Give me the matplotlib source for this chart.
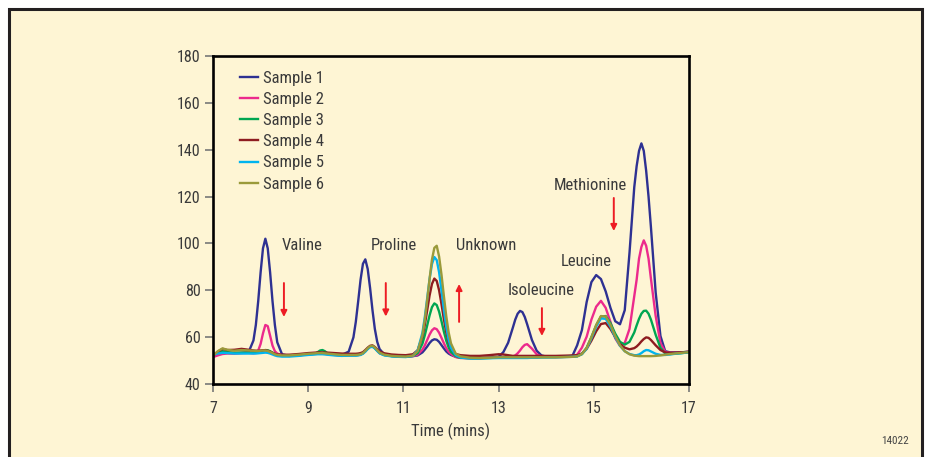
import matplotlib.pyplot as plt
from matplotlib.patches import Rectangle

plt.rcParams['font.family'] = ['Liberation Sans Narrow', 'DejaVu Sans Condensed',
                               'Roboto Condensed', 'Roboto', 'DejaVu Sans']

# retention time grid (mins)
time = [7.0, 7.1, 7.2, 7.3, 7.45, 7.6, 7.75,
        7.85, 7.9, 7.95, 8.0, 8.05, 8.1, 8.15, 8.2, 8.25, 8.3, 8.35, 8.45,
        8.6, 8.8, 9.0, 9.15, 9.2, 9.25, 9.3, 9.35, 9.4, 9.55, 9.7, 9.85,
        9.95, 10.0, 10.05, 10.1, 10.15, 10.2, 10.25, 10.3, 10.35, 10.4, 10.45, 10.5, 10.6,
        10.75, 10.9, 11.05, 11.2,
        11.3, 11.4, 11.45, 11.5, 11.55, 11.6, 11.65, 11.7, 11.75, 11.8, 11.85, 11.9, 11.95, 12.0, 12.1, 12.2,
        12.4, 12.6, 12.8, 13.0,
        13.1, 13.2, 13.3, 13.35, 13.4, 13.45, 13.5, 13.55, 13.6, 13.7, 13.8, 13.9, 14.0,
        14.2, 14.4, 14.55,
        14.65, 14.75, 14.85, 14.95, 15.05, 15.15, 15.25, 15.35, 15.45, 15.55, 15.65, 15.75, 15.85, 15.9,
        15.95, 16.0, 16.05, 16.1, 16.15, 16.2, 16.3, 16.4, 16.5, 16.6, 16.75, 16.9, 17.0]

sample1 = [52.5, 53.0, 53.5, 53.3, 53.2, 53.3, 53.7,
           58.6, 65.2, 75.4, 87.6, 97.9, 102.0, 97.9, 87.6, 75.4, 65.2, 57.8, 52.7,
           52.0, 52.3, 52.8, 53.0, 53.0, 53.0, 53.0, 52.9, 52.8, 52.5, 52.4, 53.8,
           59.9, 66.5, 75.3, 84.5, 91.3, 93.2, 89.1, 81.0, 71.6, 63.5, 58.0, 54.9, 52.6,
           52.0, 51.8, 51.7, 51.9,
           52.2, 53.5, 54.7, 56.0, 57.5, 58.6, 59.1, 58.9, 58.0, 56.6, 55.2, 53.9, 53.0, 52.4, 51.6, 51.2,
           51.1, 51.1, 51.3, 51.6,
           53.6, 57.6, 64.1, 67.5, 70.0, 71.2, 70.7, 68.6, 65.5, 58.8, 54.2, 52.2, 51.7,
           51.6, 51.7, 52.0,
           56.5, 63.0, 75.0, 83.5, 86.5, 84.8, 79.5, 72.5, 66.8, 65.5, 71.5, 96.0, 124.0, 133.0,
           139.5, 142.7, 139.5, 131.0, 120.0, 107.0, 79.0, 60.5, 54.0, 53.5, 53.5, 53.6, 53.8]

sample2 = [51.5, 52.2, 52.8, 53.0, 53.0, 53.2, 53.3,
           53.1, 53.3, 54.3, 57.1, 61.6, 65.2, 64.7, 60.6, 56.4, 54.0, 53.0, 52.3,
           52.0, 52.3, 52.7, 52.9, 53.0, 53.0, 53.0, 52.9, 52.8, 52.4, 52.2, 52.3,
           52.3, 52.3, 52.4, 52.6, 53.1, 54.0, 55.1, 56.0, 56.1, 55.3, 54.2, 53.2, 52.4,
           52.0, 51.8, 51.7, 51.9,
           52.5, 54.7, 56.5, 58.8, 61.1, 62.9, 63.8, 63.4, 61.9, 59.7, 57.4, 55.3, 53.8, 52.8, 51.5, 51.1,
           51.0, 51.0, 51.2, 51.4,
           51.5, 51.5, 51.8, 52.2, 53.1, 54.3, 55.7, 56.7, 57.0, 55.1, 52.7, 51.7, 51.6,
           51.5, 51.6, 51.8,
           52.5, 55.5, 60.2, 67.5, 73.0, 75.5, 72.5, 66.5, 59.5, 56.3, 57.5, 63.5, 77.5, 84.5,
           93.5, 98.5, 101.3, 99.0, 93.5, 85.0, 69.0, 57.5, 53.7, 53.3, 53.3, 53.5, 53.7]

sample3 = [52.5, 53.5, 54.0, 53.6, 53.3, 53.4, 53.4,
           53.4, 53.5, 53.7, 54.0, 54.3, 54.5, 54.4, 54.0, 53.4, 52.8, 52.3, 52.0,
           52.0, 52.3, 52.6, 52.9, 53.6, 54.3, 54.5, 54.0, 53.2, 52.5, 52.2, 52.3,
           52.3, 52.3, 52.4, 52.6, 53.1, 54.0, 55.1, 56.0, 56.1, 55.3, 54.2, 53.2, 52.4,
           51.9, 51.7, 51.6, 52.0,
           53.2, 57.2, 60.8, 65.0, 69.3, 72.8, 74.4, 73.7, 70.9, 66.8, 62.4, 58.5, 55.6, 53.7, 51.9, 51.2,
           51.0, 51.0, 51.1, 51.3,
           51.4, 51.4, 51.4, 51.4, 51.4, 51.4, 51.4, 51.4, 51.4, 51.4, 51.4, 51.5, 51.5,
           51.5, 51.6, 51.7,
           51.8, 52.8, 55.5, 60.0, 65.0, 68.8, 69.0, 66.0, 61.5, 58.0, 56.8, 58.0, 62.0, 65.0,
           67.8, 70.0, 71.2, 71.3, 70.0, 67.5, 61.0, 55.5, 53.0, 52.8, 53.0, 53.3, 53.6]

sample4 = [52.0, 53.8, 55.0, 54.5, 54.6, 55.0, 54.6,
           54.3, 54.2, 54.2, 54.3, 54.4, 54.4, 54.2, 53.8, 53.3, 52.9, 52.6, 52.5,
           52.5, 52.8, 53.2, 53.4, 53.5, 53.5, 53.5, 53.4, 53.4, 53.2, 53.0, 52.9,
           52.9, 52.9, 53.0, 53.2, 53.6, 54.5, 55.5, 56.3, 56.5, 55.8, 54.8, 53.9, 53.1,
           52.6, 52.4, 52.3, 52.7,
           54.4, 60.2, 65.3, 71.5, 77.8, 82.7, 85.0, 84.0, 80.0, 74.1, 67.7, 62.1, 57.9, 55.2, 52.8, 52.3,
           52.0, 52.0, 52.3, 52.7,
           52.6, 52.3, 52.0, 52.0, 52.0, 52.0, 52.0, 52.0, 52.0, 52.0, 52.0, 52.0, 52.0,
           52.0, 52.1, 52.2,
           52.3, 53.0, 55.0, 58.5, 62.5, 65.6, 66.0, 63.5, 60.0, 57.0, 55.5, 54.8, 55.3, 56.0,
           57.0, 58.2, 59.2, 59.9, 59.7, 58.8, 56.5, 54.5, 53.5, 53.3, 53.4, 53.6, 53.8]

sample5 = [52.5, 53.0, 53.3, 53.2, 53.0, 53.0, 53.0,
           53.0, 53.0, 53.1, 53.2, 53.3, 53.4, 53.3, 53.0, 52.6, 52.2, 51.9, 51.7,
           51.7, 52.0, 52.4, 52.6, 52.7, 52.7, 52.7, 52.6, 52.5, 52.2, 52.0, 52.1,
           52.1, 52.1, 52.2, 52.4, 52.9, 53.8, 54.9, 55.7, 55.9, 55.2, 54.1, 53.1, 52.2,
           51.8, 51.6, 51.5, 52.0,
           54.4, 61.9, 68.6, 76.6, 84.8, 91.2, 94.2, 92.9, 87.7, 80.0, 71.7, 64.4, 58.9, 55.4, 52.3, 51.3,
           50.9, 50.9, 51.0, 51.1,
           51.1, 51.1, 51.1, 51.1, 51.1, 51.1, 51.1, 51.1, 51.1, 51.2, 51.2, 51.3, 51.3,
           51.4, 51.5, 51.6,
           51.8, 52.7, 55.0, 59.5, 64.5, 68.0, 67.8, 64.5, 60.0, 56.3, 54.0, 52.8, 52.3, 52.3,
           52.6, 53.2, 54.0, 54.5, 54.4, 53.9, 52.9, 52.4, 52.4, 52.6, 53.0, 53.3, 53.6]

sample6 = [52.0, 54.0, 55.2, 54.6, 54.2, 54.5, 54.3,
           54.2, 54.1, 54.1, 54.2, 54.3, 54.3, 54.1, 53.7, 53.2, 52.7, 52.4, 52.2,
           52.2, 52.5, 52.9, 53.1, 53.2, 53.2, 53.2, 53.1, 53.0, 52.7, 52.4, 52.4,
           52.4, 52.4, 52.5, 52.7, 53.2, 54.2, 55.3, 56.1, 56.3, 55.6, 54.5, 53.4, 52.5,
           52.0, 51.8, 51.7, 52.1,
           54.0, 60.9, 67.4, 75.8, 84.9, 93.1, 98.1, 99.0, 94.4, 86.7, 77.6, 69.0, 62.1, 57.3, 52.9, 51.8,
           51.2, 51.1, 51.2, 51.4,
           51.4, 51.4, 51.4, 51.4, 51.4, 51.4, 51.4, 51.4, 51.4, 51.4, 51.4, 51.4, 51.4,
           51.4, 51.5, 51.6,
           51.8, 52.8, 55.3, 60.0, 65.2, 69.0, 68.8, 65.3, 60.5, 56.5, 54.0, 52.7, 52.1, 52.0,
           51.9, 51.9, 51.9, 51.9, 51.9, 51.9, 52.0, 52.2, 52.5, 52.8, 53.1, 53.4, 53.6]

labels = ['Sample 1', 'Sample 2', 'Sample 3', 'Sample 4', 'Sample 5', 'Sample 6']
colors = ['#2e3192', '#ec2a8c', '#00a651', '#8e1c20', '#00b4ef', '#9a9a3a']

# peak names and where they sit
peak_names = ['Valine', 'Proline', 'Unknown', 'Isoleucine', 'Leucine', 'Methionine']
peak_text_x = [8.87, 10.80, 12.74, 13.89, 14.84, 14.92]
peak_text_y = [99.3, 99.3, 99.3, 79.7, 92.5, 124.9]

# red arrows: x, start y, end y
arrow_x = [8.49, 10.63, 12.17, 13.91, 15.42]
arrow_y0 = [83.1, 83.1, 66.5, 72.4, 119.4]
arrow_y1 = [68.6, 68.8, 82.7, 60.5, 105.3]

cream = '#fef5d4'
ink = '#3a3a3a'

fig = plt.figure(figsize=(9.28, 4.57), dpi=100)
fig.patch.set_facecolor('white')
frame = Rectangle((9.5 / 928, -0.05), (922 - 9.5) / 928, 1.05 - 9.5 / 457,
                  transform=fig.transFigure, facecolor=cream,
                  edgecolor='#231f20', lw=2.2, zorder=-10)
fig.patches.append(frame)

ax = fig.add_axes([213 / 928, 73 / 457, 476 / 928, 328 / 457])
ax.set_facecolor(cream)

series = [sample1, sample2, sample3, sample4, sample5, sample6]
for s, lab, c in zip(series, labels, colors):
    ax.plot(time, s, color=c, lw=1.7, label=lab, solid_joinstyle='round')

ax.set_xlim(7, 17)
ax.set_ylim(40, 180)
ax.set_xticks([7, 9, 11, 13, 15, 17])
ax.set_yticks(range(40, 181, 20))
ax.tick_params(direction='out', length=6, width=1.2, color='#777777',
               labelcolor=ink, labelsize=11.5, pad=3)
ax.tick_params(axis='x', pad=6)
for sp in ax.spines.values():
    sp.set_linewidth(1.9)
    sp.set_color('black')

ax.set_xlabel('Time (mins)', fontsize=12, color=ink, labelpad=5)

for name, tx, ty in zip(peak_names, peak_text_x, peak_text_y):
    ax.text(tx, ty, name, fontsize=12, color=ink, ha='center', va='center')

for xa, y0, y1 in zip(arrow_x, arrow_y0, arrow_y1):
    ax.annotate('', xy=(xa, y1), xytext=(xa, y0),
                arrowprops=dict(arrowstyle='-|>', color='#ed1c24', lw=1.4,
                                mutation_scale=9, shrinkA=0, shrinkB=0))

leg = ax.legend(loc='upper left', bbox_to_anchor=(0.057, 0.955), frameon=False,
                fontsize=12, handlelength=1.1, handletextpad=0.3,
                labelspacing=0.37, borderaxespad=0, borderpad=0)
for t in leg.get_texts():
    t.set_color(ink)

fig.text(895 / 928, 1 - 441 / 457, '14022', fontsize=8, color='#444444',
         ha='center', va='center')

fig.savefig('out.png', dpi=100, facecolor='white')
